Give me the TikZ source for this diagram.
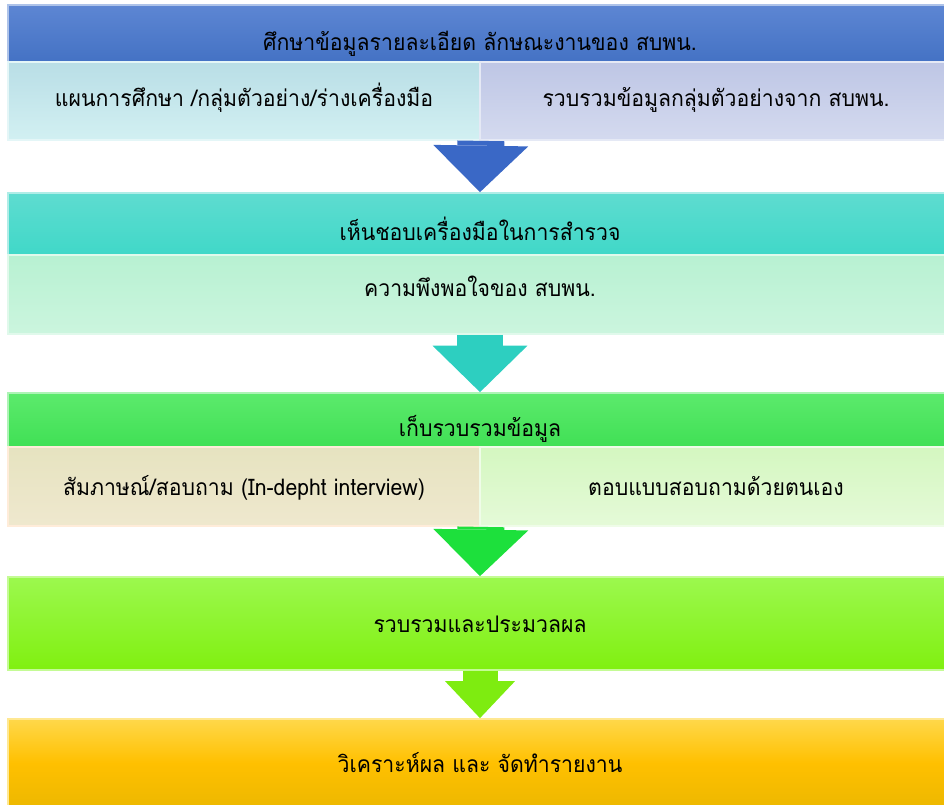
\documentclass[tikz,border=0pt]{standalone}
\usepackage{fontspec}
\newfontfamily\thaifont[Script=Thai, FakeStretch=0.93]{Loma}
\usepackage{tikz}
\usetikzlibrary{arrows.meta, positioning}

\definecolor{hdrA}{HTML}{4472C4}
\definecolor{hdrAtop}{HTML}{5D86D3}
\definecolor{subAl}{HTML}{B9DEE6}
\definecolor{subAlb}{HTML}{D2F0F2}
\definecolor{subAr}{HTML}{BEC6E5}
\definecolor{subArb}{HTML}{D4DAEF}
\definecolor{hdrB}{HTML}{40D8C8}
\definecolor{hdrBtop}{HTML}{5EDCD0}
\definecolor{subB}{HTML}{B8F1D2}
\definecolor{subBb}{HTML}{CBF5DE}
\definecolor{hdrC}{HTML}{40E055}
\definecolor{hdrCtop}{HTML}{5CEA6C}
\definecolor{subCl}{HTML}{E6E3C0}
\definecolor{subClb}{HTML}{EFE8CE}
\definecolor{subCr}{HTML}{D4F7C0}
\definecolor{subCrb}{HTML}{E5FAD8}
\definecolor{blkD}{HTML}{80F010}
\definecolor{blkDtop}{HTML}{9CF84E}
\definecolor{blkE}{HTML}{FFC000}
\definecolor{blkEtop}{HTML}{FFD84A}
\definecolor{blkEbot}{HTML}{EDB800}
\definecolor{arrA}{HTML}{3A68C6}
\definecolor{arrB}{HTML}{2DCFC0}
\definecolor{arrC}{HTML}{1DE03C}
\definecolor{arrD}{HTML}{7EEC10}

\begin{document}
\begin{tikzpicture}[x=0.02cm, y=-0.02cm,
  blk/.style={rectangle, inner sep=0pt, minimum width=18.88cm, text depth=0pt,
    font=\thaifont\fontsize{13}{15}\selectfont},
  half/.style={blk, minimum width=9.44cm},
  bevel/.style={draw=#1, line width=1pt},
  bigarrow/.style={line width=0.94cm,
    -{Triangle[length=0.93cm, width=1.9cm, line width=0pt]}},
  smallarrow/.style={line width=0.7cm,
    -{Triangle[length=0.74cm, width=1.4cm, line width=0pt]}}]
\useasboundingbox (0,0) rectangle (944,805);
\clip (0,0) rectangle (944,805);

\node[blk, minimum height=1.14cm, text height=19.4pt, top color=hdrAtop, bottom color=hdrA, bevel=hdrAtop!50!white](h1) at (480,33.5) {ศึกษาข้อมูลรายละเอียด ลักษณะงานของ สบพน.};
\node[half, minimum height=1.56cm, text height=5.7pt, top color=subAl, bottom color=subAlb, bevel=subAlb!60!white](s1l) at (244,101) {แผนการศึกษา /กลุ่มตัวอย่าง/ร่างเครื่องมือ};
\node[half, minimum height=1.56cm, text height=5.7pt, top color=subAr, bottom color=subArb, bevel=subArb!60!white](s1r) at (716,101) {รวบรวมข้อมูลกลุ่มตัวอย่างจาก สบพน.};

\node[blk, minimum height=1.24cm, text height=18.8pt, top color=hdrBtop, bottom color=hdrB, bevel=hdrBtop!50!white](h2) at (480,224) {เห็นชอบเครื่องมือในการสำรวจ};
\node[blk, minimum height=1.58cm, text height=2.7pt, top color=subB, bottom color=subBb, bevel=subBb!60!white](s2) at (480,294.5) {ความพึงพอใจของ สบพน.};

\node[blk, minimum height=1.08cm, text height=18.8pt, top color=hdrCtop, bottom color=hdrC, bevel=hdrCtop!50!white](h3) at (480,420) {เก็บรวบรวมข้อมูล};
\node[half, minimum height=1.58cm, text height=10.8pt, top color=subCl, bottom color=subClb, bevel=orange!15!white](s3l) at (244,486.5) {สัมภาษณ์/สอบถาม (In-depht interview)};
\node[half, minimum height=1.58cm, text height=10.8pt, top color=subCr, bottom color=subCrb, bevel=subCrb!60!white](s3r) at (716,486.5) {ตอบแบบสอบถามด้วยตนเอง};

\node[blk, minimum height=1.86cm, text height=10.8pt, top color=blkDtop, bottom color=blkD, bevel=blkDtop!60!white](b4) at (480,623.5) {รวบรวมและประมวลผล};
\node[blk, minimum height=1.76cm, text height=11.3pt, top color=blkEtop, bottom color=blkEbot, middle color=blkE, bevel=blkEtop!60!white](b5) at (480,763) {วิเคราะห์ผล และ จัดทำรายงาน};

\draw	(s1l.south east) edge[bigarrow, draw=arrA] (h2.north)
		(s2.south) edge[bigarrow, draw=arrB] (h3.north)
		(s3l.south east) edge[bigarrow, draw=arrC] (b4.north)
		(b4.south) edge[smallarrow, draw=arrD] (b5.north);
\end{tikzpicture}
\end{document}
